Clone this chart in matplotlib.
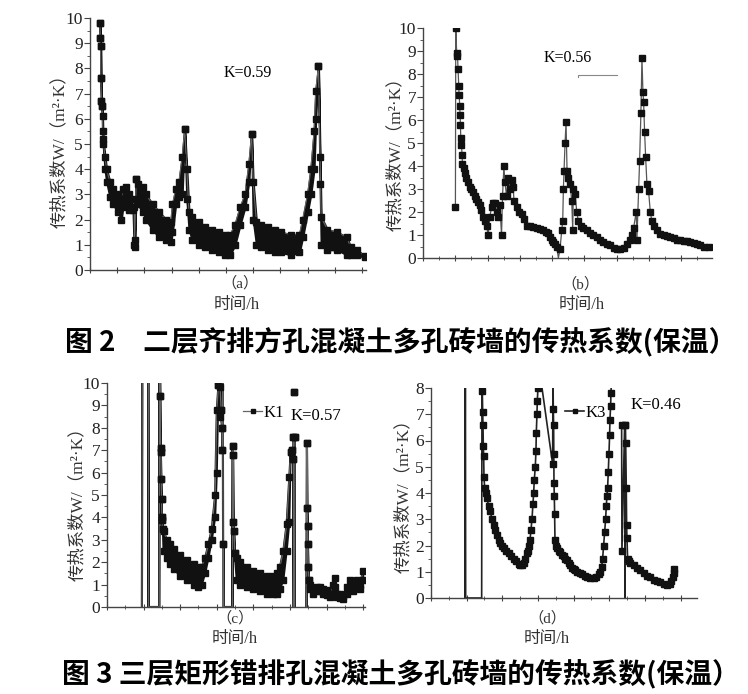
import numpy as np
import matplotlib
matplotlib.use("Agg")
import matplotlib.pyplot as plt

plt.rcParams['font.family'] = ['Liberation Serif', 'Noto Sans CJK SC']
plt.rcParams['axes.unicode_minus'] = False

# ---- (a) 二层齐排方孔, K=0.59 : time, upper / lower value of the scatter band
a_t = [3.6, 3.8, 3.9, 4.0, 4.2, 4.4, 4.6, 4.8, 5.5, 6.1, 7.3, 8.5, 10.3, 11.5, 12.1, 13.3, 14.5, 15.8,
       16.2, 16.4, 17.0, 17.6, 19.4, 20.6, 23.0, 25.5, 27.9, 29.7, 30.3, 31.5, 32.7, 33.9, 34.8, 35.6,
       36.4, 37.6, 40.0, 42.4, 44.8, 47.3, 49.7, 51.5, 53.3, 55.2, 57.0, 58.4, 59.4, 60.0, 61.2, 63.0,
       65.5, 67.9, 70.3, 73.9, 77.0, 78.2, 80.0, 81.2, 82.4, 83.0, 84.0, 84.6, 85.0, 87.3, 90.9, 94.5,
       95.8, 98.2, 101.0]
a_hi = [9.8, 9.2, 8.9, 7.6, 6.7, 6.5, 6.1, 5.2, 4.5, 4.0, 3.5, 3.2, 3.0, 2.8, 3.2, 3.3, 3.0, 2.8,
        2.5, 1.2, 3.6, 3.4, 3.3, 3.0, 2.6, 2.3, 2.0, 1.9, 2.6, 3.2, 3.5, 4.5, 5.6, 4.0,
        2.3, 2.1, 1.9, 1.7, 1.6, 1.5, 1.4, 1.4, 1.8, 2.5, 3.0, 4.2, 5.4, 3.5, 1.9, 1.8,
        1.7, 1.6, 1.5, 1.4, 1.4, 2.0, 3.0, 4.0, 5.5, 7.1, 8.1, 4.5, 2.1, 1.6, 1.5, 1.3,
        0.9, 0.8, 0.55]
a_lo = [9.8, 9.2, 8.9, 7.6, 6.7, 6.5, 5.5, 5.0, 4.0, 3.5, 2.9, 2.6, 2.3, 2.0, 2.5, 2.6, 2.4, 2.4,
        1.0, 0.9, 3.6, 2.6, 2.3, 2.0, 1.6, 1.3, 1.2, 1.1, 1.5, 2.6, 2.9, 3.0, 5.6, 2.8,
        1.6, 1.2, 1.0, 0.9, 0.8, 0.7, 0.6, 0.6, 1.0, 1.8, 2.5, 3.5, 5.4, 2.0, 1.0, 0.9,
        0.8, 0.7, 0.7, 0.6, 0.7, 1.3, 2.3, 3.0, 4.0, 6.0, 8.1, 3.4, 1.0, 0.8, 0.8, 0.6,
        0.6, 0.6, 0.5]

# ---- (b) K=0.56
b_t = [10.05, 10.16, 10.47, 10.67, 10.88, 11.09, 11.19, 11.40, 11.50, 11.61, 11.71, 11.92, 12.12, 12.23,
       12.64, 13.06, 13.47, 13.99, 14.51, 15.03, 15.54, 16.06, 16.58, 17.10, 17.62, 18.13, 18.65, 19.17,
       19.69, 20.21, 20.73, 21.24, 21.76, 22.28, 22.80, 23.32, 23.83, 24.35, 24.66, 25.08, 25.39, 25.91,
       26.42, 26.94, 27.46, 27.98, 28.19, 29.02, 29.84, 30.57, 31.30, 32.12, 33.16, 34.20, 35.23, 36.27,
       37.31, 38.13, 38.86, 39.38, 39.90, 40.41, 40.93, 41.45, 41.97, 42.49, 43.01, 43.32, 43.52, 43.73,
       44.04, 44.35, 44.66, 45.08, 45.60, 46.11, 46.42, 46.63, 47.15, 47.67, 48.19, 48.91, 49.74, 50.78,
       51.81, 52.85, 53.89, 54.92, 55.96, 56.99, 58.03, 59.07, 60.10, 61.14, 62.18, 63.21, 64.25, 64.77,
       65.28, 66.11, 66.32, 66.84, 67.15, 67.56, 67.88, 68.19, 68.39, 68.70, 69.02, 69.43, 69.95, 70.47,
       70.98, 71.50, 72.54, 73.58, 74.61, 75.65, 76.68, 77.72, 78.76, 79.79, 80.83, 81.87, 82.90, 83.94,
       84.97, 86.01, 87.05, 88.60]
b_k = [2.2, 10.0, 8.8, 8.9, 8.2, 7.5, 7.1, 6.6, 6.2, 5.8, 5.2, 4.9, 4.5, 4.1,
       3.9, 3.7, 3.5, 3.3, 3.1, 3.0, 2.85, 2.7, 2.55, 2.45, 2.3, 2.1, 1.8, 1.6,
       1.4, 1.0, 1.8, 2.2, 2.4, 2.4, 2.0, 1.8, 2.3, 1.0, 2.7, 4.0, 3.3, 2.7,
       3.5, 3.0, 3.4, 3.1, 2.5, 2.2, 2.0, 1.9, 1.7, 1.4, 1.4, 1.35, 1.3, 1.25,
       1.2, 1.15, 1.1, 0.9, 0.8, 0.7, 0.6, 0.5, 0.0, 0.4, 1.2, 1.6, 3.0, 3.8,
       5.0, 5.9, 3.8, 3.5, 3.2, 2.5, 1.2, 3.0, 2.8, 2.0, 1.6, 1.4, 1.3, 1.2,
       1.1, 1.0, 0.9, 0.8, 0.7, 0.6, 0.55, 0.45, 0.4, 0.4, 0.45, 0.6, 0.8, 1.0,
       1.3, 2.0, 0.8, 3.0, 4.2, 6.3, 8.7, 7.2, 6.8, 5.5, 4.4, 3.2, 2.9, 2.0,
       1.6, 1.4, 1.2, 1.05, 1.0, 0.95, 0.9, 0.85, 0.8, 0.8, 0.75, 0.75, 0.7, 0.65,
       0.6, 0.55, 0.5, 0.5]

# ---- (c) 三层矩形错排孔 K1, K=0.57 (values above 10 are off scale)
c_t = [9.55, 9.64, 11.27, 11.36, 14.27, 14.36, 14.55, 14.64, 14.73, 14.82, 14.91, 15.0, 15.09, 15.27,
       15.45, 16.36, 17.27, 18.18, 20.0, 21.82, 23.64, 25.0, 25.91, 26.82, 27.73, 28.64, 29.55, 30.0,
       30.45, 30.91, 31.18, 31.45, 31.55, 31.64, 31.73, 31.82, 31.91,
       34.27, 34.36, 34.45, 34.55, 34.73, 34.91, 35.45, 36.36, 38.18, 40.0, 41.82, 43.64, 45.45, 46.36,
       47.27, 48.18, 49.09, 49.82, 50.18, 50.55, 50.82, 50.91, 51.0, 51.27, 51.36, np.nan, 51.18, np.nan,
       54.55, 54.64, 54.73, 54.82, 54.91, 55.0, 55.18, 55.45, 56.36, 57.27, 58.18, 59.09, 60.0, 60.91,
       61.82, 62.27, 62.73, 63.64, 64.55, 65.45, 66.36, 67.27, 68.18, 69.09, 70.0]
c_hi = [0, 14, 14, 0, 0, 14, 9.4, 7.1, 6.9, 5.7, 4.8, 4.0, 3.9, 3.5,
        3.4, 3.0, 2.8, 2.6, 2.3, 2.1, 1.9, 1.8, 1.8, 2.2, 2.8, 3.5, 5.0, 8.8,
        9.9, 9.8, 8.8, 8.0, 7.0, 14, 0, 2.8, 0,
        0, 7.2, 6.8, 3.8, 3.4, 2.4, 2.2, 2.0, 1.8, 1.6, 1.5, 1.4, 1.4, 1.5,
        1.8, 2.5, 3.7, 5.8, 6.9, 7.0, 6.6, 7.6, 0, 0, 7.6, np.nan, 9.6, np.nan,
        0, 7.3, 4.4, 3.6, 2.8, 1.8, 1.2, 1.0, 0.8, 0.9, 0.9, 0.8, 0.75, 0.6,
        1.0, 1.3, 0.6, 0.6, 0.5, 0.9, 1.2, 0.9, 1.2, 1.0, 1.6]
c_lo = [0, 14, 14, 0, 0, 14, 9.4, 7.1, 6.9, 5.7, 4.8, 4.0, 3.9, 3.5,
        2.5, 2.2, 1.9, 1.7, 1.4, 1.2, 1.0, 0.9, 1.0, 1.5, 2.2, 3.0, 4.0, 6.0,
        9.9, 8.5, 8.8, 8.0, 7.0, 14, 0, 2.8, 0,
        0, 7.2, 6.8, 3.8, 3.4, 2.4, 1.2, 1.0, 0.9, 0.8, 0.7, 0.6, 0.6, 0.6,
        0.8, 1.2, 2.5, 3.8, 6.9, 7.0, 6.6, 7.6, 0, 0, 7.6, np.nan, 9.6, np.nan,
        0, 7.3, 4.4, 3.6, 2.8, 1.8, 1.2, 0.8, 0.6, 0.7, 0.7, 0.6, 0.55, 0.45,
        0.6, 0.9, 0.45, 0.4, 0.35, 0.6, 0.9, 0.7, 0.9, 0.8, 1.2]

# ---- (d) K3, K=0.46 (values above 8 are off scale)
d_t = [9.53, 9.63, 9.72, 14.21, 14.30, 14.39, 14.49, 14.58, 14.67, 14.77, 14.86, 15.05, 15.33, 15.70,
       16.17, 16.64, 17.10, 17.57, 18.04, 18.50, 18.97, 19.44, 19.91, 20.37, 21.12, 21.78, 22.43, 23.18,
       23.93, 24.58, 25.05, 25.51, 25.98, 26.45, 26.92, 27.20, 27.48, 27.76, 28.04, 28.32, 28.60, 28.79,
       28.97, 29.25, 29.44, 29.53, 29.72, 29.81, 30.0, 30.37, 31.03, 34.11, 34.21, 34.30, 34.39, 34.44,
       34.49, 34.58, 34.67, 34.77, 34.95, 35.33, 35.79, 36.26, 36.73, 37.20, 37.66, 38.13, 38.60, 39.07,
       39.53, 40.0, 40.47, 40.93, 41.68, 42.34, 43.08, 43.74, 44.67, 45.61, 46.36, 47.01, 47.48, 47.85,
       48.13, 48.41, 48.69, 48.97, 49.16, 49.35, 49.53, 49.72, 49.91, 50.09, 50.19, 50.37, 50.47, 50.65,
       np.nan, 53.46, 53.55, 54.30, 54.39, 54.49, 54.58, 54.77, 54.86, 54.95, 55.14, 55.42, 55.89, 56.82,
       57.76, 58.69, 59.63, 60.56, 61.50, 62.43, 63.36, 64.30, 65.23, 66.17, 66.92, 67.38, 67.76, 68.04,
       68.22]
d_k = [0, 12, 0, 0, 8.5, 7.9, 7.1, 6.6, 5.8, 5.4, 4.6, 4.2, 4.0, 3.8,
       3.5, 3.3, 3.0, 2.8, 2.6, 2.4, 2.2, 2.1, 2.0, 1.9, 1.8, 1.7, 1.6, 1.5,
       1.4, 1.3, 1.25, 1.25, 1.35, 1.5, 1.7, 1.8, 2.0, 2.2, 2.6, 3.0, 3.6, 4.0,
       4.5, 5.0, 5.6, 6.3, 7.0, 7.5, 8.0, 9.0, 8.1, 5.1, 8.5, 7.2, 6.6, 5.5,
       4.4, 3.9, 3.2, 2.2, 2.0, 1.9, 1.8, 1.75, 1.65, 1.6, 1.5, 1.45, 1.35, 1.25,
       1.15, 1.1, 1.05, 1.0, 0.95, 0.9, 0.85, 0.8, 0.75, 0.75, 0.8, 0.9, 1.0, 1.2,
       1.5, 2.0, 2.5, 3.0, 3.5, 3.9, 4.2, 4.8, 5.5, 6.2, 6.8, 7.3, 7.8, 8.5,
       np.nan, 6.6, 1.8, 6.6, 0, 6.6, 5.9, 4.2, 2.8, 2.3, 1.5, 1.4, 1.35, 1.25,
       1.15, 1.05, 0.95, 0.85, 0.8, 0.7, 0.65, 0.6, 0.55, 0.5, 0.55, 0.65, 0.8, 0.95,
       1.1]

YLABEL = '传热系数W/（m²·K）'
W, H = 748, 694
INK = '#111111'
AXC = '#444444'


def px_rect(x0, y0, x1, y1):
    return [x0 / W, 1 - y1 / H, (x1 - x0) / W, (y1 - y0) / H]


def visible(y, ymax):
    y = np.array(y, dtype=float)
    return np.where((y > 0) & (y <= ymax), y, np.nan)


def style(ax, xmax, ymax, minor_x=True):
    ax.set_xlim(0, xmax)
    ax.set_ylim(0, ymax)
    for s in ['top', 'right']:
        ax.spines[s].set_visible(False)
    for s in ['left', 'bottom']:
        ax.spines[s].set_color(AXC)
        ax.spines[s].set_linewidth(1.0)
    ax.set_xticks(np.arange(0, xmax + 0.01, 10))
    if minor_x:
        ax.set_xticks(np.arange(5, xmax, 10), minor=True)
    ax.set_xticklabels([])
    ax.set_yticks(np.arange(0, ymax + 0.01, 1))
    ax.set_yticks(np.arange(0.5, ymax, 1), minor=True)
    ax.tick_params(axis='x', which='major', direction='inout', length=5, color=AXC)
    ax.tick_params(axis='x', which='minor', direction='inout', length=3, color=AXC)
    ax.tick_params(axis='y', which='major', direction='out', length=4, color=AXC,
                   labelsize=12.5, pad=1, labelcolor='#222222')
    ax.tick_params(axis='y', which='minor', direction='out', length=2, color=AXC)
    ax.patch.set_alpha(0)


def panel_text(ylab_xy, tag, tag_xy, tag2_xy):
    fig.text(ylab_xy[0] / W, 1 - ylab_xy[1] / H, YLABEL, rotation=90, ha='center', va='center',
             fontsize=12.5, color='#333333')
    fig.text(tag_xy[0] / W, 1 - tag_xy[1] / H, '（' + tag + '）', ha='center', va='center',
             fontsize=11, color='#333333')
    fig.text(tag2_xy[0] / W, 1 - tag2_xy[1] / H, '时间/h', ha='center', va='center',
             fontsize=12, color='#333333')


def key(ax, label, x, y):
    ax.legend(loc='center left', bbox_to_anchor=(x, y), frameon=False, handlelength=1.15,
              handletextpad=0.1, fontsize=12, borderpad=0, borderaxespad=0, markerscale=0.6)


fig = plt.figure(figsize=(W / 100, H / 100), dpi=100)

# (a)
ax = fig.add_axes(px_rect(90, 18, 366, 270))
style(ax, 101.5, 10, minor_x=False)
ax.fill_between(a_t, a_lo, a_hi, color=INK, lw=1.5, edgecolor=INK)
ax.plot(a_t, a_hi, '-', color='#666666', lw=0.8)
ax.plot(a_t, a_hi, 's', color=INK, ms=4.3)
ax.plot(a_t, a_lo, 's', color=INK, ms=4.3)
ax.text(0.57, 0.78, 'K=0.59', transform=ax.transAxes, ha='center', va='center', fontsize=11.5)
panel_text((60, 147), 'a', (240, 283), (237, 305))

# (b)
ax = fig.add_axes(px_rect(423, 28, 712, 258))
style(ax, 89.6, 10)
ax.plot(b_t, b_k, '-', color='#555555', lw=0.9)
ax.plot(b_t, visible(b_k, 10), 's', color=INK, ms=4.2)
ax.text(0.50, 0.87, 'K=0.56', transform=ax.transAxes, ha='center', va='center', fontsize=11.5)
ax.plot([0.536, 0.536, 0.671], [0.785, 0.796, 0.796], transform=ax.transAxes, color='#888888', lw=0.8)
panel_text((396, 150), 'b', (580, 284), (582, 305))

# (c)
ax = fig.add_axes(px_rect(107, 383, 365, 607))
style(ax, 70.5, 10)
ax.fill_between(c_t, c_lo, c_hi, color=INK, lw=1.5, edgecolor=INK)
ax.plot(c_t, c_hi, '-', color='#666666', lw=0.9, label='K1', marker='s', ms=4,
        mfc=INK, mec=INK, markevery=list(np.where(~np.isnan(visible(c_hi, 10)))[0]))
ax.plot(c_t, visible(c_lo, 10), 's', color=INK, ms=4)
key(ax, 'K1', 0.527, 0.866)
ax.text(0.81, 0.853, 'K=0.57', transform=ax.transAxes, ha='center', va='center', fontsize=12)
panel_text((78, 500), 'c', (235, 618), (235, 639))

# (d)
ax = fig.add_axes(px_rect(431, 388, 697, 598))
style(ax, 74.6, 8)
ax.plot(d_t, d_k, '-', color='#222222', lw=1.2, label='K3', marker='s', ms=4,
        mfc=INK, mec=INK, markevery=list(np.where(~np.isnan(visible(d_k, 8)))[0]))
key(ax, 'K3', 0.504, 0.881)
ax.text(0.847, 0.919, 'K=0.46', transform=ax.transAxes, ha='center', va='center', fontsize=12)
panel_text((404, 492), 'd', (547, 618), (547, 639))

# captions
fig.text(401 / W, 1 - 343 / H, '图 2　二层齐排方孔混凝土多孔砖墙的传热系数(保温）',
         ha='center', va='center', fontsize=20, fontweight='bold', family=['Noto Sans CJK SC'])
fig.text(401 / W, 1 - 675 / H, '图 3 三层矩形错排孔混凝土多孔砖墙的传热系数(保温）',
         ha='center', va='center', fontsize=20, fontweight='bold', family=['Noto Sans CJK SC'])

fig.savefig('out.png', dpi=100)
